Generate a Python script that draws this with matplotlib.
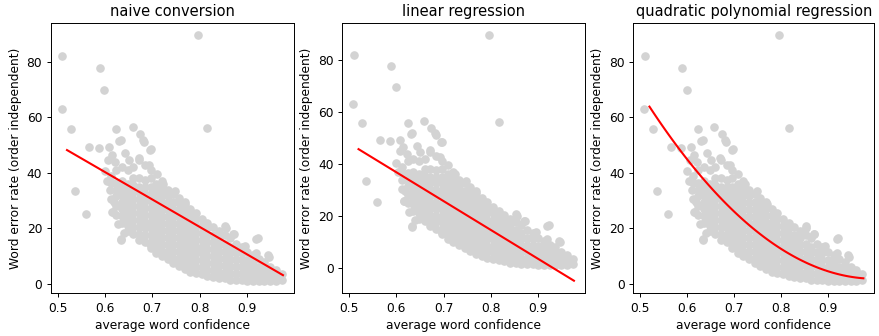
import matplotlib
matplotlib.use('Agg')
import matplotlib.pyplot as plt
import numpy as np

# scattered points (average word confidence, WER)
outlier_conf = [0.510, 0.509, 0.528, 0.536, 0.559, 0.589, 0.599, 0.795, 0.816, 0.634,
                0.566, 0.587, 0.624, 0.658, 0.674, 0.681, 0.697, 0.633, 0.617, 0.697,
                0.854, 0.871, 0.919, 0.945, 0.683, 0.630, 0.608, 0.695, 0.614, 0.643,
                0.671, 0.650, 0.622, 0.692, 0.709, 0.723, 0.748, 0.769, 0.615, 0.650,
                0.633, 0.695, 0.852, 0.870, 0.922, 0.894, 0.943, 0.919, 0.604, 0.607,
                0.611, 0.619, 0.627, 0.640]
outlier_wer = [82.0, 63.0, 55.7, 33.3, 25.2, 77.8, 69.7, 89.5, 56.0, 15.7,
               49.4, 48.8, 55.7, 56.6, 53.9, 52.0, 48.5, 51.8, 25.8, 14.5,
               20.1, 17.9, 16.3, 9.8, 51.2, 51.5, 49.4, 48.4, 46.4, 47.0,
               45.2, 44.5, 43.9, 42.7, 39.7, 36.1, 33.6, 28.8, 25.8, 22.8,
               16.1, 14.3, 20.9, 17.9, 16.5, 13.7, 10.4, 11.3, 37.0, 44.8,
               34.0, 29.5, 21.5, 18.5]

# dense cloud, one column of WER values per confidence value
cloud_conf = [0.600, 0.612, 0.624, 0.636, 0.648, 0.660, 0.672, 0.684, 0.696, 0.708,
              0.720, 0.732, 0.744, 0.756, 0.768, 0.780, 0.792, 0.804, 0.816, 0.828,
              0.840, 0.852, 0.864, 0.876, 0.888, 0.900, 0.912, 0.924, 0.936, 0.948,
              0.960, 0.972]
cloud_wer = [
    [40.5],
    [30.5, 36.5, 39],
    [25, 28, 31.5, 34, 36.5, 41],
    [22, 24.5, 27, 29.5, 32, 34.5, 37, 42],
    [19, 21, 23.5, 26, 28.5, 31, 33.5, 36, 41],
    [18, 20.5, 23, 25.5, 28, 30.5, 33, 35.5, 38, 42],
    [16, 18, 20.5, 23, 25.5, 28, 30.5, 33, 35, 38, 44.5],
    [15, 17.5, 20, 22.5, 25, 27.5, 30, 32.5, 35, 37.5, 43],
    [13, 15, 17.5, 20, 22.5, 25, 27.5, 30, 32.5, 35, 38, 41],
    [11, 13.5, 16, 18.5, 21, 23.5, 26, 28.5, 31, 33.5, 36],
    [10, 12, 14.5, 17, 19.5, 22, 24.5, 27, 29.5, 32, 34.5, 37],
    [9, 11.5, 14, 16.5, 19, 21.5, 24, 26.5, 29, 31.5, 34],
    [7.5, 9.5, 12, 14.5, 17, 19.5, 22, 24.5, 27, 29.5, 32.5],
    [6.5, 9, 11.5, 14, 16.5, 19, 21.5, 24, 26.5, 29, 31],
    [5.5, 7.5, 10, 12.5, 15, 17.5, 20, 22.5, 25, 27.5, 29.5],
    [4.5, 7, 9.5, 12, 14.5, 17, 19.5, 22, 24.5, 27],
    [4, 6, 8.5, 11, 13.5, 16, 18.5, 21, 23.5, 25.5],
    [3.5, 6, 8.5, 11, 13.5, 16, 18.5, 21, 23.5],
    [3, 5, 7.5, 10, 12.5, 15, 17.5, 20, 22],
    [2.5, 5, 7.5, 10, 12.5, 15, 17.5, 20.5],
    [2, 4, 6.5, 9, 11.5, 14, 16.5, 19],
    [2, 4.5, 7, 9.5, 12, 14.5, 17.5],
    [1.5, 3.5, 6, 8.5, 11, 13.5, 16.5],
    [1.5, 4, 6.5, 9, 11.5, 14.5],
    [1.5, 3.5, 6, 8.5, 11, 13.5],
    [1.2, 3.5, 6, 8.5, 11.5],
    [1.2, 3, 5.5, 8, 10.5],
    [1.2, 3.5, 6, 9],
    [1.2, 3, 5.5, 8],
    [1.2, 3.5, 6],
    [1.2, 3, 5],
    [1.5, 3.5],
]

# fitted lines
line_conf = [0.52, 0.975]
naive_wer = [48.2, 3.2]
linear_wer = [45.7, -4.9]
quad_coef = [268.8, -537.6, 270.7]  # a*x^2 + b*x + c

titles = ['naive conversion', 'linear regression', 'quadratic polynomial regression']

x = list(outlier_conf)
y = list(outlier_wer)
for i in range(len(cloud_conf)):
    for w in cloud_wer[i]:
        x.append(cloud_conf[i])
        y.append(w)

qx = np.linspace(line_conf[0], line_conf[1], 100)
qy = np.polyval(quad_coef, qx)
lines = [(line_conf, naive_wer), (line_conf, linear_wer), (qx, qy)]

dpi = 88
fig = plt.figure(figsize=(879 / dpi, 336 / dpi), dpi=dpi)
rects = [[0.0577, 0.128, 0.2768, 0.8036],
         [0.3894, 0.128, 0.2761, 0.8036],
         [0.7205, 0.128, 0.2742, 0.8036]]
for i in range(3):
    ax = fig.add_axes(rects[i])
    ax.scatter(x, y, color='lightgrey')
    ax.plot(lines[i][0], lines[i][1], color='red', lw=1.7)
    ax.set_title(titles[i])
    ax.set_xlabel('average word confidence')
    ax.set_ylabel('Word error rate (order independent)')
    ax.set_xticks([0.5, 0.6, 0.7, 0.8, 0.9])
    ax.set_yticks([0, 20, 40, 60, 80])

plt.savefig('out.png', dpi=dpi)
